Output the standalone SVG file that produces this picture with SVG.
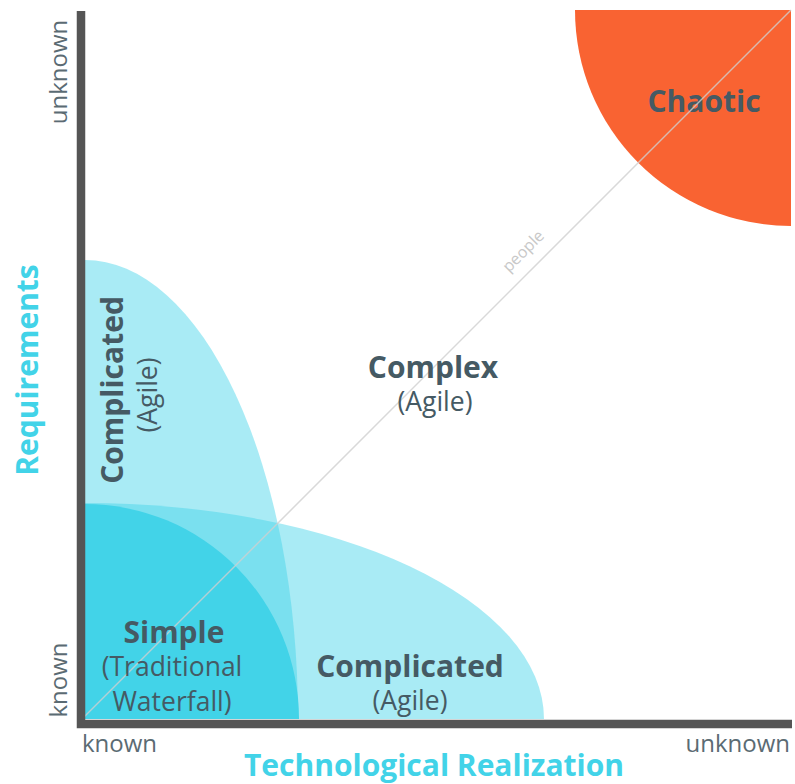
<svg xmlns="http://www.w3.org/2000/svg" width="795" height="784" viewBox="0 0 795 784">
<style>
.lab{font-family:"Open Sans","Noto Sans",sans-serif;fill:#455a64}
.b{font-weight:bold;font-size:30px}
.r{font-size:26.5px}
.ax{font-family:"Open Sans","Noto Sans",sans-serif;font-size:24px;fill:#5b6b73}
.title{font-family:"Open Sans","Noto Sans",sans-serif;font-weight:bold;font-size:30px;fill:#42d3e8}
.zone{fill:#42d3e8;fill-opacity:0.455}
</style>
<rect width="795" height="784" fill="#ffffff"/>
<g id="chaotic">
<path d="M791,10 L575,10 A216,216 0 0 0 791,226 Z" fill="#f96332"/>
<text class="lab b" x="704" y="112" text-anchor="middle">Chaotic</text>
</g>
<g id="complicated-tech">
<path class="zone" d="M85,719 L85,503 A459,216 0 0 1 544,719 Z"/>
</g>
<g id="complicated-req">
<path class="zone" d="M85,719 L85,260 A213,459 0 0 1 298,719 Z"/>
</g>
<g id="simple">
<path d="M85,719 L85,504 A214,215 0 0 1 299,719 Z" fill="#42d3e8"/>
</g>
<g id="connectors">
<line x1="82" y1="719" x2="791" y2="10" stroke="#cfcfcf" stroke-width="1.5" stroke-opacity="0.8"/>
</g>
<g id="people">
<text transform="translate(527,255) rotate(-45)" text-anchor="middle" font-family="Open Sans, Noto Sans, sans-serif" font-size="16" fill="#c8c8c8">people</text>
</g>
<g id="axes">
<path d="M81,11 L81,724 L792,724" fill="none" stroke="#555555" stroke-width="8.5"/>
</g>
<g id="labels-simple">
<text class="lab b" x="174" y="643" text-anchor="middle">Simple</text>
<text class="lab r" x="172" y="676" text-anchor="middle">(Traditional</text>
<text class="lab r" x="172" y="711" text-anchor="middle">Waterfall)</text>
</g>
<g id="labels-complicated-tech">
<text class="lab b" x="410" y="677" text-anchor="middle">Complicated</text>
<text class="lab r" x="410" y="710" text-anchor="middle">(Agile)</text>
</g>
<g id="labels-complicated-req">
<text class="lab b" transform="translate(123,390) rotate(-90)" text-anchor="middle">Complicated</text>
<text class="lab r" transform="translate(157,395) rotate(-90)" text-anchor="middle">(Agile)</text>
</g>
<g id="complex">
<text class="lab b" x="433" y="378" text-anchor="middle">Complex</text>
<text class="lab r" x="435" y="411" text-anchor="middle">(Agile)</text>
</g>
<g id="axis-labels">
<text class="ax" transform="translate(67,72) rotate(-90)" text-anchor="middle">unknown</text>
<text class="ax" transform="translate(67,680) rotate(-90)" text-anchor="middle">known</text>
<text class="ax" x="82" y="752">known</text>
<text class="ax" x="790" y="752" text-anchor="end">unknown</text>
<text class="title" x="434" y="776" text-anchor="middle">Technological Realization</text>
<text class="title" transform="translate(38,370) rotate(-90)" text-anchor="middle" font-size="30.5">Requirements</text>
</g>
</svg>
